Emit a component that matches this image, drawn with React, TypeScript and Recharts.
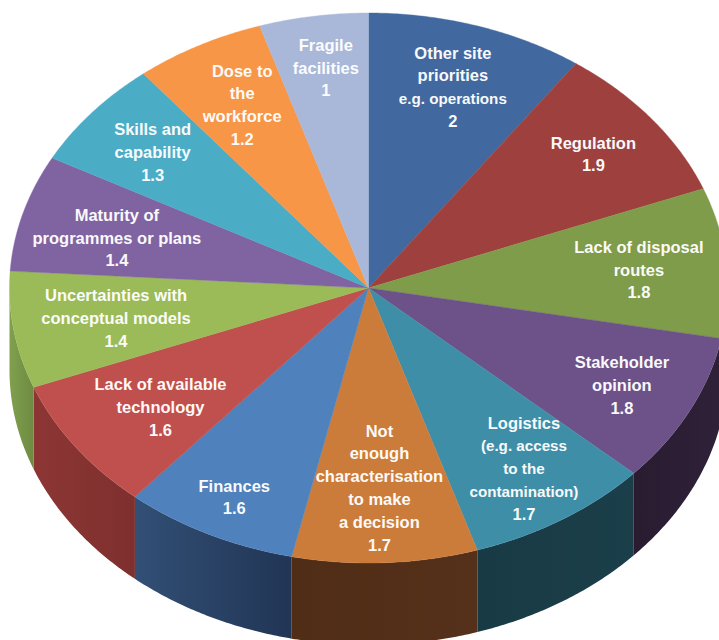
import React from "react";
import { PieChart, Pie } from "recharts";

const categories = [
  ["Other site", "priorities", "e.g. operations"],
  ["Regulation"],
  ["Lack of disposal", "routes"],
  ["Stakeholder", "opinion"],
  ["Logistics", "(e.g. access", "to the", "contamination)"],
  ["Not", "enough", "characterisation", "to make", "a decision"],
  ["Finances"],
  ["Lack of available", "technology"],
  ["Uncertainties with", "conceptual models"],
  ["Maturity of", "programmes or plans"],
  ["Skills and", "capability"],
  ["Dose to", "the", "workforce"],
  ["Fragile", "facilities"],
];
const values = [2, 1.9, 1.8, 1.8, 1.7, 1.7, 1.6, 1.6, 1.4, 1.4, 1.3, 1.2, 1];
const valueLabels = ["2", "1.9", "1.8", "1.8", "1.7", "1.7", "1.6", "1.6", "1.4", "1.4", "1.3", "1.2", "1"];
const smallLines = ["e.g. operations", "(e.g. access", "to the", "contamination)"];

const topColors = ["#41699F", "#9E413E", "#7F9C4A", "#6D5289", "#3F8EA8", "#CC7C3A", "#4F81BD", "#C0504D", "#9BBB59", "#8064A2", "#4BACC6", "#F79646", "#A9B8D9"];
const wallFrom = ["#41699F", "#9E413E", "#2C2033", "#2F2138", "#1B3F4A", "#55301A", "#324F75", "#8C3634", "#80A04E", "#5A4672", "#357A8C", "#B06A30", "#76829A"];
const wallTo = ["#2E4A70", "#6E2D2B", "#2C2033", "#291C31", "#183A44", "#502D16", "#213555", "#7E302E", "#6E8A42", "#4A3A60", "#2C6575", "#96592A", "#606A80"];

// Layout of the tilted pie
const WIDTH = 719;
const HEIGHT = 640;
const CX = 368.5;
const CY = 288;
const RX = 359;
const RY = 275;
const DEPTH = 82;
const LABEL_FRACTION = 0.72;
const FONT = "'Liberation Sans', Arial, sans-serif";
const FONT_SIZE = 16.5;
const SMALL_FONT_SIZE = 15.2;
const LINE_HEIGHT = 22.8;
const labelShift = [
  [6, -12.3], [21, -12], [13, 0], [22, 9], [16, 14], [-1, 2], [-19, 32],
  [3, 5], [3, 0], [-3, 4], [-17, -9], [-4, -8.5], [-3, -24.5],
];

const rows = values.map((value, i) => ({
  name: categories[i].join(" "),
  value,
  fill: topColors[i],
  wall: `url(#wall${i})`,
}));

// Maps a library angle (degrees, counter-clockwise from 3 o'clock) onto the ellipse
function ellipsePoint(angle: number, cx: number, cy: number, r: number, f = 1) {
  const rad = (angle * Math.PI) / 180;
  return [cx + r * f * Math.cos(rad), cy - ((r * RY) / RX) * f * Math.sin(rad)];
}

function arcPoints(a0: number, a1: number, cx: number, cy: number, r: number) {
  const n = Math.max(2, Math.ceil(Math.abs(a1 - a0) * 2));
  const pts: number[][] = [];
  for (let i = 0; i <= n; i++) pts.push(ellipsePoint(a0 + ((a1 - a0) * i) / n, cx, cy, r));
  return pts;
}

const toPath = (pts: number[][]) =>
  pts.map((p, i) => `${i ? "L" : "M"}${p[0].toFixed(2)} ${p[1].toFixed(2)}`).join("") + "Z";

function TopFace(props: any) {
  const { cx, cy, outerRadius, startAngle, endAngle, fill } = props;
  const pts = [[cx, cy], ...arcPoints(startAngle, endAngle, cx, cy, outerRadius)];
  return <path d={toPath(pts)} fill={fill} stroke={fill} strokeWidth={0.4} />;
}

function WallFace(props: any) {
  const { cx, cy, outerRadius, startAngle, endAngle, payload } = props;
  // Only the front half of the rim (library angles -180 to 0) shows a wall
  const hi = Math.min(Math.max(startAngle, endAngle), 0);
  const lo = Math.max(Math.min(startAngle, endAngle), -180);
  if (hi <= lo) return <g />;
  const rim = arcPoints(hi, lo, cx, cy, outerRadius);
  const base = rim.map((p) => [p[0], p[1] + DEPTH]).reverse();
  return <path d={toPath([...rim, ...base])} fill={payload.wall} />;
}

function SliceLabel(props: any) {
  const { cx, cy, outerRadius, midAngle, index } = props;
  const [ax, ay] = ellipsePoint(midAngle, cx, cy, outerRadius, LABEL_FRACTION);
  const lines = [...categories[index], valueLabels[index]];
  const x = ax + labelShift[index][0];
  const y0 = ay + labelShift[index][1] - ((lines.length - 1) * LINE_HEIGHT) / 2;
  return (
    <text x={x} y={y0} fill="#FFFFFF" fontFamily={FONT} fontSize={FONT_SIZE} fontWeight={700} textAnchor="middle" opacity={0.96}>
      {lines.map((line, i) => (
        <tspan
          key={i}
          x={x}
          y={y0 + i * LINE_HEIGHT}
          dy="0.35em"
          fontSize={smallLines.includes(line) ? SMALL_FONT_SIZE : FONT_SIZE}
        >
          {line}
        </tspan>
      ))}
    </text>
  );
}

export default function App() {
  return (
    <div style={{ position: "absolute", left: 0, top: 0, width: WIDTH, height: HEIGHT, overflow: "hidden", background: "#fff" }}>
      <PieChart width={WIDTH} height={HEIGHT} margin={{ top: 0, right: 0, bottom: 0, left: 0 }}>
        <defs>
          {values.map((_, i) => (
            <linearGradient key={i} id={`wall${i}`} x1="0" y1="0" x2="1" y2="0">
              <stop offset="0" stopColor={i < 6 ? wallTo[i] : wallFrom[i]} />
              <stop offset="1" stopColor={i < 6 ? wallFrom[i] : wallTo[i]} />
            </linearGradient>
          ))}
        </defs>
        <Pie
          data={rows}
          dataKey="value"
          cx={CX}
          cy={CY}
          innerRadius={0}
          outerRadius={RX}
          startAngle={90}
          endAngle={-270}
          stroke="none"
          isAnimationActive={false}
          shape={WallFace}
          legendType="none"
        />
        <Pie
          data={rows}
          dataKey="value"
          cx={CX}
          cy={CY}
          innerRadius={0}
          outerRadius={RX}
          startAngle={90}
          endAngle={-270}
          stroke="none"
          isAnimationActive={false}
          shape={TopFace}
          label={SliceLabel}
          labelLine={false}
        />
      </PieChart>
    </div>
  );
}
